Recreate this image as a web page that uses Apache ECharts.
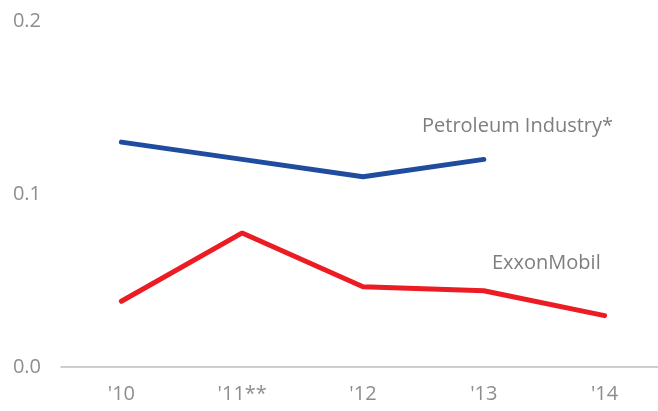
<!DOCTYPE html>
<html><head><meta charset="utf-8">
<script src="https://cdn.jsdelivr.net/npm/echarts@6/dist/echarts.min.js"></script>
<style>html,body{margin:0;padding:0;background:#fff}#c{width:658px;height:411px}</style>
</head><body><div id="c"></div>
<script>
const categories = ["'10", "'11**", "'12", "'13", "'14"];
const petroleumIndustry = [0.130, 0.120, 0.110, 0.120, null];
const exxonMobil = [0.038, 0.0775, 0.0464, 0.0441, 0.0297];
const yTicks = [0, 0.1, 0.2];

const chart = echarts.init(document.getElementById('c'));
const font = '"Open Sans", "Noto Sans", sans-serif';
chart.setOption({
  animation: false,
  grid: { left: 61, width: 604, top: 21, bottom: 44, containLabel: false, outerBoundsMode: 'none' },
  xAxis: {
    type: 'category',
    data: categories,
    boundaryGap: true,
    axisLine: { lineStyle: { color: '#bdbdbd', width: 1.5 } },
    axisTick: { show: false },
    axisLabel: { color: '#8e8e8e', fontSize: 20, fontFamily: font, margin: 17 }
  },
  yAxis: {
    type: 'value',
    min: yTicks[0], max: yTicks[yTicks.length - 1], interval: 0.1,
    axisLine: { show: false }, axisTick: { show: false },
    splitLine: { show: false },
    axisLabel: { color: '#8e8e8e', fontSize: 20, fontFamily: font, margin: 20,
      formatter: v => v.toFixed(1) }
  },
  series: [
    { name: 'Petroleum Industry*', type: 'line', data: petroleumIndustry, symbol: 'none',
      lineStyle: { color: '#1f4c9e', width: 5, cap: 'round' }, itemStyle: { color: '#1f4c9e' } },
    { name: 'ExxonMobil', type: 'line', data: exxonMobil, symbol: 'none',
      lineStyle: { color: '#ec1c24', width: 5, cap: 'round' }, itemStyle: { color: '#ec1c24' } }
  ],
  graphic: [
    { type: 'text', left: 422, top: 116, style: { text: 'Petroleum Industry*', fill: '#7e7e7e', font: '20px ' + font } },
    { type: 'text', left: 492, top: 253, style: { text: 'ExxonMobil', fill: '#7e7e7e', font: '20px ' + font } }
  ]
});
</script></body></html>
